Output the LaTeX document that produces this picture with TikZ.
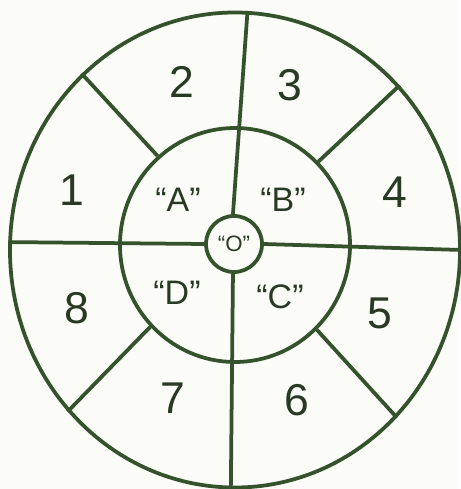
\documentclass[tikz,border=0pt]{standalone}
\usepackage{fontspec}
\setmainfont{Liberation Sans}
\usetikzlibrary{shapes.geometric}
\definecolor{ringgreen}{RGB}{52,82,44}
\definecolor{labelgreen}{RGB}{40,58,36}
\definecolor{paper}{RGB}{251,251,247}

\begin{document}
\begin{tikzpicture}[x=0.03cm,y=-0.03cm,line width=3.2pt,draw=ringgreen,
    ring/.style={ellipse,draw,inner sep=0pt},
    sector/.style={text=labelgreen,font=\fontsize{38}{38}\selectfont},
    quadrant/.style={text=labelgreen,font=\fontsize{29}{29}\selectfont}]
  \fill[paper] (0,0) rectangle (460,489);
  \useasboundingbox (0,0) rectangle (460,489);
  % rings
  \node[ring,minimum width=13.5cm,minimum height=14.25cm] (outer) at (235,250) {};
  \node[ring,minimum width=6.9cm,minimum height=7.02cm] (inner) at (235,245) {};
  \node[ring,minimum size=1.68cm] (hub) at (234,244) {};
  % spokes
  \draw (hub.92) -- (outer.87);
  \draw (hub.268) -- (outer.269);
  \draw (hub.180) -- (outer.178);
  \draw (hub.0) -- (outer.0);
  \foreach \a in {131,45,-46,224}
    \draw (inner.\a) -- (outer.\a);
  % outer sectors
  \node[sector] (s1) at (72,190) {1};
  \node[sector] (s2) at (182,82) {2};
  \node[sector] (s3) at (290,85) {3};
  \node[sector] (s4) at (395,192) {4};
  \node[sector] (s5) at (380,313) {5};
  \node[sector] (s6) at (297,400) {6};
  \node[sector] (s7) at (173,398) {7};
  \node[sector] (s8) at (77,308) {8};
  % inner quadrants
  \node[quadrant] (qa) at (178,200) {``A''};
  \node[quadrant] (qb) at (283,200) {``B''};
  \node[quadrant] (qc) at (280,297) {``C''};
  \node[quadrant] (qd) at (177,293) {``D''};
  \node[text=labelgreen,font=\fontsize{19}{19}\selectfont] (qo) at (hub) {``O''};
\end{tikzpicture}
\end{document}
